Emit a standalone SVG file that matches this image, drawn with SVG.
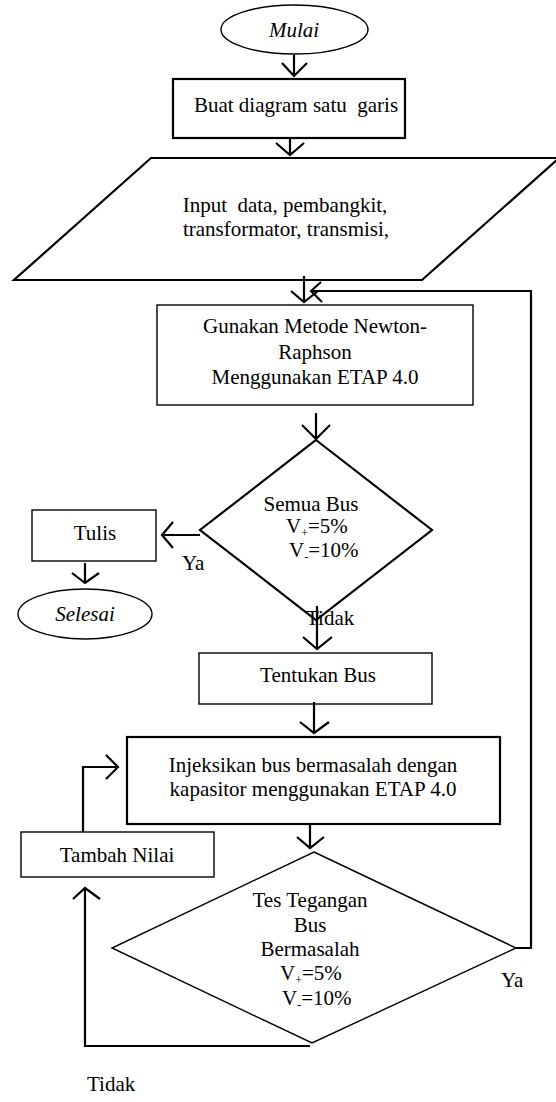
<svg xmlns="http://www.w3.org/2000/svg" width="556" height="1102" viewBox="0 0 556 1102">
<style>
text{font-family:"Liberation Serif","Times New Roman",serif;font-size:21px;fill:#000}
.it{font-style:italic}
.m{text-anchor:middle}
.sub{font-size:12px}
.thick{fill:#fff;stroke:#000;stroke-width:2.2}
.thin{fill:#fff;stroke:#000;stroke-width:1.4}
.ln{fill:none;stroke:#000;stroke-width:2.2}
</style>
<rect width="556" height="1102" fill="#fff"/>
<g id="mulai"><ellipse class="thin" cx="294.5" cy="29.5" rx="73.5" ry="24.5"/><text class="it m" x="294" y="37">Mulai</text></g>
<g id="buat"><rect class="thick" x="173" y="79" width="232" height="59"/><text class="m" x="296" y="112">Buat diagram satu&#160; garis</text></g>
<g id="input"><polygon class="thick" points="151,158 559,158 422,280 14,280"/><text class="m" x="285" y="212">Input&#160; data, pembangkit,</text><text class="m" x="286" y="236">transformator, transmisi,</text></g>
<g id="newton"><rect class="thin" x="157" y="305" width="316" height="100"/><text class="m" x="315" y="333">Gunakan Metode Newton-</text><text class="m" x="315" y="359">Raphson</text><text class="m" x="315" y="384">Menggunakan ETAP 4.0</text></g>
<g id="semua"><polygon class="thick" points="316,440 432,530 316,620 200,530"/><text class="m" x="311" y="511">Semua Bus</text><text x="286" y="533">V<tspan class="sub" dy="4">+</tspan><tspan dy="-4">=5%</tspan></text><text x="289" y="557">V<tspan class="sub" dy="4">-</tspan><tspan dy="-4">=10%</tspan></text></g>
<g id="tulis"><rect class="thin" x="32" y="510" width="124" height="51"/><text class="m" x="95" y="540">Tulis</text></g>
<g id="selesai"><ellipse class="thin" cx="85" cy="614" rx="67" ry="25"/><text class="it m" x="85" y="621">Selesai</text></g>
<g id="tentukan"><rect class="thin" x="199" y="653" width="233" height="51"/><text class="m" x="318" y="682">Tentukan Bus</text></g>
<g id="injeksi"><rect class="thick" x="127" y="737" width="373" height="87"/><text class="m" x="313" y="772">Injeksikan bus bermasalah dengan</text><text class="m" x="313" y="796">kapasitor menggunakan ETAP 4.0</text></g>
<g id="tambah"><rect class="thin" x="21" y="832" width="193" height="45"/><text class="m" x="117" y="862">Tambah Nilai</text></g>
<g id="tes"><polygon class="thin" points="314,852 516,948 312,1043 112,948"/><text class="m" x="310" y="907">Tes Tegangan</text><text class="m" x="310" y="932">Bus</text><text class="m" x="310" y="956">Bermasalah</text><text x="280" y="980">V<tspan class="sub" dy="4">+</tspan><tspan dy="-4">=5%</tspan></text><text x="282" y="1005">V<tspan class="sub" dy="4">-</tspan><tspan dy="-4">=10%</tspan></text></g>
<g id="labels"><text x="182" y="570">Ya</text><text x="306" y="625">Tidak</text><text x="501" y="987">Ya</text><text x="87" y="1091">Tidak</text></g>
<g id="connectors">
<path class="ln" d="M294,55V76M282,63L294,76L307,63"/>
<path class="ln" d="M290,138V155M276,143L290,155L304,143"/>
<path class="ln" d="M304,276V302M291,291L304,302L318,291"/>
<path class="ln" d="M516,948H531V291H311M321,282L311,291L322,302"/>
<path class="ln" d="M316,413V439M302,425L316,439L330,425"/>
<path class="ln" d="M200,535H162M173,522L162,535L173,548"/>
<path class="ln" d="M85,563V583M72,573L85,583L99,573"/>
<path class="ln" d="M317,606V649M303,637L317,649L332,637"/>
<path class="ln" d="M314,702V733M300,722L314,733L329,722"/>
<path class="ln" d="M310,824V848M297,837L310,848L324,837"/>
<path class="ln" d="M83,832V767H118M106,755L118,767L106,779"/>
<path class="ln" d="M310,1046H85V888M73,899L85,888L100,899"/>
</g>
</svg>
